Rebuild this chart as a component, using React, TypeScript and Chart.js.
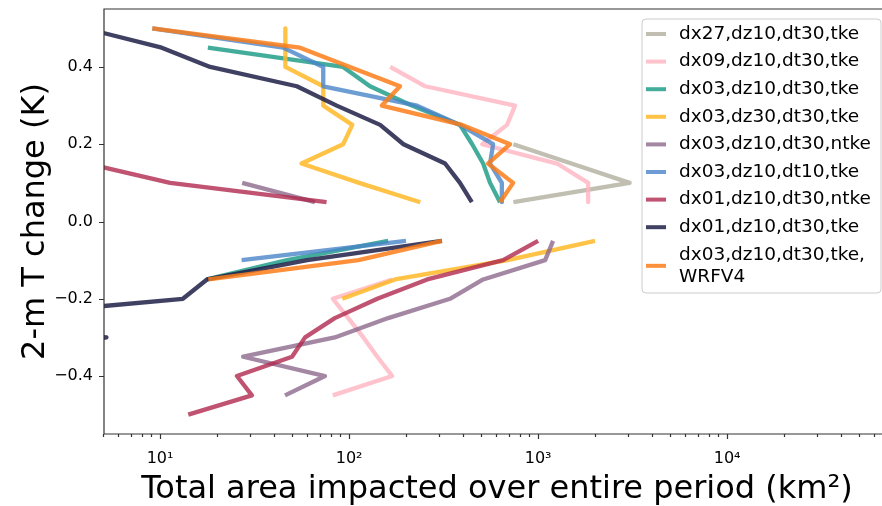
import React, { useEffect, useRef } from "react";
import { Chart, registerables } from "chart.js";

Chart.register(...registerables);

// Temperature-change thresholds (K) for the positive and negative branches
const posThresholds = [0.5, 0.45, 0.4, 0.35, 0.3, 0.25, 0.2, 0.15, 0.1, 0.05];
const negThresholds = [-0.05, -0.1, -0.15, -0.2, -0.25, -0.3, -0.35, -0.4, -0.45, -0.5];

// Total impacted area (km^2) per threshold; null = no value
const areaPosDx27Tke = [null, null, null, null, null, null, 740, 1500, 3050, 740];
const areaNegDx27Tke = [null, null, null, null, null, null, null, null, null, null];

const areaPosDx09Tke = [null, null, 165, 253, 755, 685, 506, 1260, 1840, 1840];
const areaNegDx09Tke = [null, null, 169, 82, 99, 119, 141, 169, 82, null];

const areaPosDx03Tke = [null, 17.9, 93, 129, 215, 386, 448, 512, 557, 629];
const areaNegDx03Tke = [161, 47, 17.7, null, null, null, null, null, null, null];

const areaPosDx03Dz30 = [46, 46, 46, 73, 73, 104, 93, 56, 113, 238];
const areaNegDx03Dz30 = [2000, 690, 175, 92, null, null, null, null, null, null];

const areaPosDx03Ntke = [null, null, null, null, null, null, null, null, 27.2, 66];
const areaNegDx03Ntke = [1200, 1090, 512, 342, 161, 84, 27.5, 74.6, 45.8, null];

const areaPosDx03Dt10 = [9.1, 44.8, 73, 73, 229, 386, 578, 557, 643, 643];
const areaNegDx03Dt10 = [200, 27, null, null, null, null, null, null, null, null];

const areaPosDx01Ntke = [null, null, null, null, null, null, null, 4.1, 11.3, 76];
const areaNegDx01Ntke = [1000, 653, 259, 141, 84, 58.5, 49.9, 25.5, 30.6, 14.1];

const areaPosDx01Tke = [4.0, 10.2, 18.4, 52.9, 86, 146, 194, 322, 386, 446];
const areaNegDx01Tke = [310, 60, 17.7, 13.2, 1.0, 5.2, 1.0, null, null, null];

const areaPosWrfv4 = [9.1, 55, 101, 186, 149, 396, 711, 543, 738, 629];
const areaNegWrfv4 = [310, 112, 18, null, null, null, null, null, null, null];

const seriesLabels = [
  ["dx27,dz10,dt30,tke"],
  ["dx09,dz10,dt30,tke"],
  ["dx03,dz10,dt30,tke"],
  ["dx03,dz30,dt30,tke"],
  ["dx03,dz10,dt30,ntke"],
  ["dx03,dz10,dt10,tke"],
  ["dx01,dz10,dt30,ntke"],
  ["dx01,dz10,dt30,tke"],
  ["dx03,dz10,dt30,tke,", "WRFV4"],
];

const seriesColors = [
  "rgba(178,175,158,0.8)",
  "rgba(255,180,194,0.8)",
  "rgba(34,158,138,0.85)",
  "rgba(255,185,40,0.85)",
  "rgba(140,105,140,0.8)",
  "rgba(72,132,200,0.8)",
  "rgba(175,40,78,0.8)",
  "rgba(30,30,72,0.85)",
  "rgba(252,125,25,0.85)",
];

const seriesPos = [
  areaPosDx27Tke, areaPosDx09Tke, areaPosDx03Tke, areaPosDx03Dz30, areaPosDx03Ntke,
  areaPosDx03Dt10, areaPosDx01Ntke, areaPosDx01Tke, areaPosWrfv4,
];
const seriesNeg = [
  areaNegDx27Tke, areaNegDx09Tke, areaNegDx03Tke, areaNegDx03Dz30, areaNegDx03Ntke,
  areaNegDx03Dt10, areaNegDx01Ntke, areaNegDx01Tke, areaNegWrfv4,
];

const yTickValues = [-0.4, -0.2, 0.0, 0.2, 0.4];
const xMajorTicks = [10, 100, 1000, 10000];
const xMajorLabels = ["10\u00b9", "10\u00b2", "10\u00b3", "10\u2074"];

const FONT = "'DejaVu Sans', sans-serif";

function buildPoints(pos: (number | null)[], neg: (number | null)[]) {
  const pts: { x: number; y: number | null }[] = [];
  pos.forEach((x, i) => {
    if (x !== null) pts.push({ x, y: posThresholds[i] });
  });
  const negPts: { x: number; y: number | null }[] = [];
  neg.forEach((x, i) => {
    if (x !== null) negPts.push({ x, y: negThresholds[i] });
  });
  if (negPts.length) {
    pts.push({ x: 100, y: null });
    pts.push(...negPts);
  }
  return pts;
}

function minorTicks(): number[] {
  const out: number[] = [];
  for (let d = 1; d <= 10000; d *= 10) {
    for (let m = 1; m <= 9; m++) out.push(m * d);
  }
  return out.filter((v) => v >= 5 && v <= 66000);
}

const decorPlugin = {
  id: "decor",
  afterDraw(chart: any) {
    const { ctx, chartArea: a, scales } = chart;
    ctx.save();
    // frame
    ctx.strokeStyle = "#333";
    ctx.lineWidth = 1.2;
    ctx.beginPath();
    ctx.moveTo(a.left, a.bottom);
    ctx.lineTo(a.left, a.top);
    ctx.lineTo(a.right, a.top);
    ctx.moveTo(a.left, a.bottom);
    ctx.lineTo(a.right, a.bottom);
    ctx.stroke();
    // y ticks
    ctx.beginPath();
    for (const v of yTickValues) {
      const py = Math.round(scales.y.getPixelForValue(v)) + 0.5;
      ctx.moveTo(a.left - 5, py);
      ctx.lineTo(a.left, py);
    }
    ctx.stroke();
    // x ticks
    ctx.beginPath();
    for (const v of minorTicks()) {
      const px = Math.round(scales.x.getPixelForValue(v)) + 0.5;
      const len = xMajorTicks.includes(v) ? 5 : 3;
      ctx.moveTo(px, a.bottom);
      ctx.lineTo(px, a.bottom + len);
    }
    ctx.stroke();

    // axis titles
    ctx.fillStyle = "#000";
    ctx.font = `32px ${FONT}`;
    ctx.textAlign = "center";
    ctx.textBaseline = "alphabetic";
    ctx.fillText("Total area impacted over entire period (km\u00b2)", 497, 498);
    ctx.save();
    ctx.translate(44, (a.top + a.bottom) / 2);
    ctx.rotate(-Math.PI / 2);
    ctx.fillText("2-m T change (K)", 0, 0);
    ctx.restore();

    // legend
    const bx = 642, by = 19, bw = 239, bh = 274, r = 4;
    ctx.beginPath();
    ctx.moveTo(bx + r, by);
    ctx.lineTo(bx + bw - r, by);
    ctx.quadraticCurveTo(bx + bw, by, bx + bw, by + r);
    ctx.lineTo(bx + bw, by + bh - r);
    ctx.quadraticCurveTo(bx + bw, by + bh, bx + bw - r, by + bh);
    ctx.lineTo(bx + r, by + bh);
    ctx.quadraticCurveTo(bx, by + bh, bx, by + bh - r);
    ctx.lineTo(bx, by + r);
    ctx.quadraticCurveTo(bx, by, bx + r, by);
    ctx.closePath();
    ctx.fillStyle = "rgba(255,255,255,0.8)";
    ctx.fill();
    ctx.strokeStyle = "#cccccc";
    ctx.lineWidth = 1;
    ctx.stroke();

    ctx.font = `18.5px ${FONT}`;
    ctx.textAlign = "left";
    ctx.textBaseline = "middle";
    let y = 34;
    const step = 27.6;
    seriesLabels.forEach((lines, i) => {
      const handleY = lines.length > 1 ? y + (step * 0.8) / 2 : y;
      ctx.strokeStyle = seriesColors[i];
      ctx.lineWidth = 4;
      ctx.beginPath();
      ctx.moveTo(646, handleY);
      ctx.lineTo(666, handleY);
      ctx.stroke();
      ctx.fillStyle = "#000";
      lines.forEach((t, j) => ctx.fillText(t, 679, y + j * step * 0.8));
      y += step;
    });
    ctx.restore();
  },
};

export default function App() {
  const ref = useRef<HTMLCanvasElement>(null);
  useEffect(() => {
    if (!ref.current) return;
    const n = seriesLabels.length;
    const datasets = seriesLabels.map((lines, i) => ({
      label: lines.join(" "),
      data: buildPoints(seriesPos[i], seriesNeg[i]),
      borderColor: seriesColors[i],
      backgroundColor: seriesColors[i],
      borderWidth: 4.3,
      pointRadius: 0,
      pointHoverRadius: 0,
      tension: 0,
      fill: false,
      spanGaps: false,
      borderJoinStyle: "round" as const,
      borderCapStyle: "butt" as const,
      clip: 0,
      order: n - 1 - i,
    }));
    const chart = new Chart(ref.current, {
      type: "line",
      data: { datasets },
      options: {
        animation: false,
        responsive: false,
        devicePixelRatio: 1,
        layout: { padding: { top: 9, left: 0, right: 0, bottom: 0 } },
        plugins: { legend: { display: false }, tooltip: { enabled: false } },
        events: [],
        scales: {
          x: {
            type: "logarithmic",
            min: 5.05,
            max: 66000,
            grid: { display: false, drawTicks: false },
            border: { display: false },
            afterBuildTicks: (s: any) => {
              s.ticks = minorTicks().map((v) => ({ value: v, major: xMajorTicks.includes(v) }));
            },
            afterFit: (s: any) => {
              s.height = 72;
              s.paddingLeft = 0;
              s.paddingRight = 0;
              s.paddingTop = 0;
              s.paddingBottom = 0;
            },
            ticks: {
              autoSkip: false,
              maxRotation: 0,
              minRotation: 0,
              padding: 15,
              color: "#000",
              font: { family: FONT, size: 16 },
              callback: (v: any) => {
                const idx = xMajorTicks.indexOf(Number(v));
                return idx >= 0 ? xMajorLabels[idx] : "";
              },
            },
          },
          y: {
            type: "linear",
            min: -0.55,
            max: 0.55,
            grid: { display: false, drawTicks: false },
            border: { display: false },
            afterBuildTicks: (s: any) => {
              s.ticks = yTickValues.map((v) => ({ value: v }));
            },
            afterFit: (s: any) => {
              s.width = 104;
              s.paddingLeft = 0;
              s.paddingRight = 0;
              s.paddingTop = 0;
              s.paddingBottom = 0;
            },
            ticks: {
              padding: 11,
              color: "#000",
              font: { family: FONT, size: 16 },
              callback: (v: any) => Number(v).toFixed(1).replace("-", "\u2212"),
            },
          },
        },
      },
      plugins: [decorPlugin],
    });
    return () => chart.destroy();
  }, []);
  return (
    <div style={{ position: "absolute", left: 0, top: 0, width: 882, height: 506 }}>
      <canvas ref={ref} width={882} height={506} />
    </div>
  );
}
